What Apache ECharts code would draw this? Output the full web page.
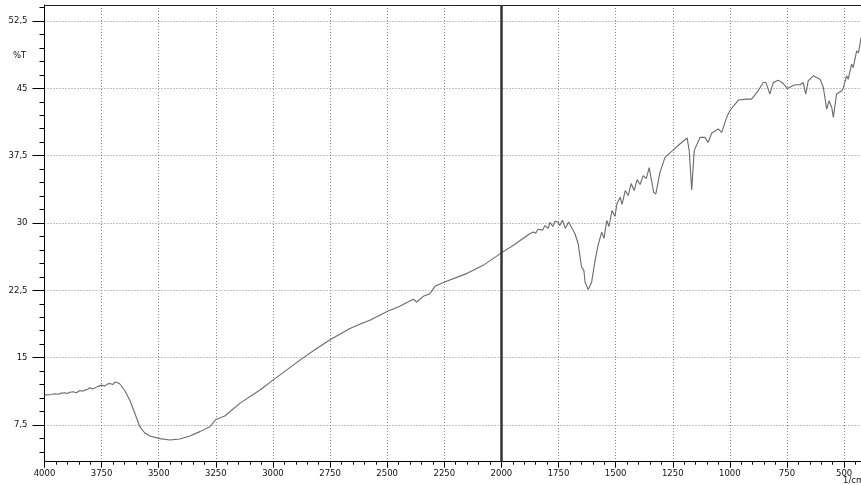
<!DOCTYPE html>
<html><head><meta charset="utf-8">
<script src="https://cdn.jsdelivr.net/npm/echarts@6/dist/echarts.min.js"></script>
<style>html,body{margin:0;padding:0;background:#fff}#c{width:861px;height:485px}</style>
</head><body><div id="c"></div>
<script>
// IR spectrum: wavenumber (1/cm) vs transmittance (%T)
const wavenumbers = [4000,3970,3955,3940,3925,3911,3900,3889,3875,3860,3845,3835,3824,3812,3802,3790,3780,3765,3750,3736,3725,3714,3701,3692,3685,3679,3670,3648,3627,3605,3583,3561,3539,3495,3451,3408,3364,3320,3276,3250,3211,3145,3057,3000,2882,2809,2748,2663,2620,2576,2498,2445,2386,2371,2342,2313,2291,2249,2152,2080,2000,1949,1876,1860,1850,1840,1832,1820,1810,1802,1795,1788,1775,1765,1751,1745,1739,1733,1727,1720,1713,1706,1700,1678,1664,1649,1639,1634,1620,1605,1590,1577,1561,1551,1539,1529,1516,1503,1494,1480,1472,1458,1445,1432,1419,1406,1393,1379,1366,1353,1343,1333,1324,1306,1284,1251,1219,1187,1178,1167,1156,1131,1109,1095,1080,1051,1036,1014,1000,963,927,905,876,854,842,825,810,788,766,749,715,693,679,668,657,635,605,591,576,566,554,547,533,525,510,504,489,482,467,460,445,437,426];
const transmittance = [10.83,10.9,10.97,10.92,11.05,11.09,11.0,11.15,11.2,11.1,11.33,11.25,11.38,11.45,11.64,11.5,11.62,11.8,11.94,11.83,12.05,12.13,12.0,12.28,12.1,12.2,12.06,11.31,10.28,8.83,7.31,6.61,6.28,5.98,5.83,5.94,6.28,6.76,7.31,8.11,8.5,9.91,11.39,12.5,14.72,16.02,17.02,18.24,18.72,19.17,20.17,20.72,21.5,21.2,21.83,22.13,22.94,23.42,24.36,25.28,26.67,27.5,28.8,29.0,28.85,29.3,29.39,29.2,29.7,29.61,29.4,30.06,29.61,30.2,30.09,29.7,29.61,30.3,30.39,29.4,29.5,30.1,29.91,28.8,27.69,25.09,24.72,23.42,22.58,23.42,25.83,27.5,28.98,28.28,30.28,29.61,31.39,30.72,32.17,32.87,32.06,33.61,33.06,34.39,33.61,34.83,34.28,35.28,34.94,36.17,34.72,33.39,33.24,35.64,37.31,38.06,38.8,39.47,38.06,33.69,38.06,39.53,39.53,38.98,40.0,40.47,40.09,41.76,42.5,43.69,43.8,43.8,44.72,45.64,45.64,44.36,45.64,45.91,45.53,44.98,45.39,45.39,45.64,44.36,45.83,46.39,46.02,45.09,42.69,43.61,42.87,41.76,44.36,44.36,44.72,45.02,46.39,46.02,47.69,47.31,49.17,48.94,50.64];
const xTickLabels = [4000,3750,3500,3250,3000,2750,2500,2250,2000,1750,1500,1250,1000,750,500];
const yTickLabels = [7.5,15,22.5,30,37.5,45,52.5];
const xMinorTicks = [450,550,600,650,700,800,850,900,950,1050,1100,1150,1200,1300,1350,1400,1450,1550,1600,1650,1700,1800,1850,1900,1950,2050,2100,2150,2200,2300,2350,2400,2450,2550,2600,2650,2700,2800,2850,2900,2950,3050,3100,3150,3200,3300,3350,3400,3450,3550,3600,3650,3700,3800,3850,3900,3950];
const yMinorTicks = [4.5,6,9,10.5,12,13.5,16.5,18,19.5,21,24,25.5,27,28.5,31.5,33,34.5,36,39,40.5,42,43.5,46.5,48,49.5,51,54];
const markerWavenumber = 2000;
const xRange = [426, 4000];
const yRange = [3.41, 54.28];
const yName = '%T';
const xName = '1/cm';

const FONT = 'DejaVu Sans';
const labelStyle = {fontFamily: FONT, fontSize: 8.5, color: '#111'};
const fmt = v => String(v).replace('.', ',');
const chart = echarts.init(document.getElementById('c'), null, {renderer: 'canvas'});
const pts = wavenumbers.map((w, i) => [w, transmittance[i]]);
const gridLine = {show: true, lineStyle: {color: '#8a8a8a', type: [1, 2], width: 1}};
chart.setOption({
  animation: false,
  backgroundColor: '#fff',
  grid: {left: 44.5, right: 0, top: 5, bottom: 23.3},
  xAxis: [{
    type: 'value', inverse: true, min: xRange[0], max: xRange[1], position: 'bottom',
    axisLine: {show: true, lineStyle: {color: '#000', width: 1}},
    axisTick: {show: true, customValues: xTickLabels, length: 6, lineStyle: {color: '#000'}},
    axisLabel: {show: true, customValues: xTickLabels, margin: 8, formatter: v => String(v), ...labelStyle},
    splitLine: gridLine
  }, {
    type: 'value', inverse: true, min: xRange[0], max: xRange[1], position: 'bottom', offset: 0,
    axisLine: {show: false},
    axisTick: {show: true, customValues: xMinorTicks, length: 3, lineStyle: {color: '#000'}},
    axisLabel: {show: false}, splitLine: {show: false}
  }, {
    type: 'value', inverse: true, min: xRange[0], max: xRange[1], position: 'top', offset: 0,
    axisLine: {show: true, lineStyle: {color: '#222', width: 1}},
    axisTick: {show: false}, axisLabel: {show: false}, splitLine: {show: false}
  }],
  yAxis: [{
    type: 'value', min: yRange[0], max: yRange[1], position: 'left',
    axisLine: {show: true, lineStyle: {color: '#000', width: 1}},
    axisTick: {show: true, customValues: yTickLabels, length: 12, lineStyle: {color: '#000'}},
    axisLabel: {show: true, customValues: yTickLabels, margin: 17, formatter: fmt, ...labelStyle},
    splitLine: gridLine
  }, {
    type: 'value', min: yRange[0], max: yRange[1], position: 'left', offset: 0,
    axisLine: {show: false},
    axisTick: {show: true, customValues: yMinorTicks, length: 5, lineStyle: {color: '#000'}},
    axisLabel: {show: false}, splitLine: {show: false}
  }],
  graphic: [
    {type: 'text', left: 13, top: 51, style: {text: yName, font: '8.5px "DejaVu Sans"', fill: '#111'}},
    {type: 'text', left: 843, top: 476, style: {text: xName, font: '8.5px "DejaVu Sans"', fill: '#111'}}
  ],
  series: [{
    type: 'line', data: pts, xAxisIndex: 0, yAxisIndex: 0, showSymbol: false, smooth: false,
    lineStyle: {color: '#6a6a6a', width: 1.1},
    markLine: {silent: true, symbol: 'none', label: {show: false},
      lineStyle: {color: '#333', width: 2.5, type: 'solid'},
      data: [{xAxis: markerWavenumber}]}
  }]
});
</script></body></html>
